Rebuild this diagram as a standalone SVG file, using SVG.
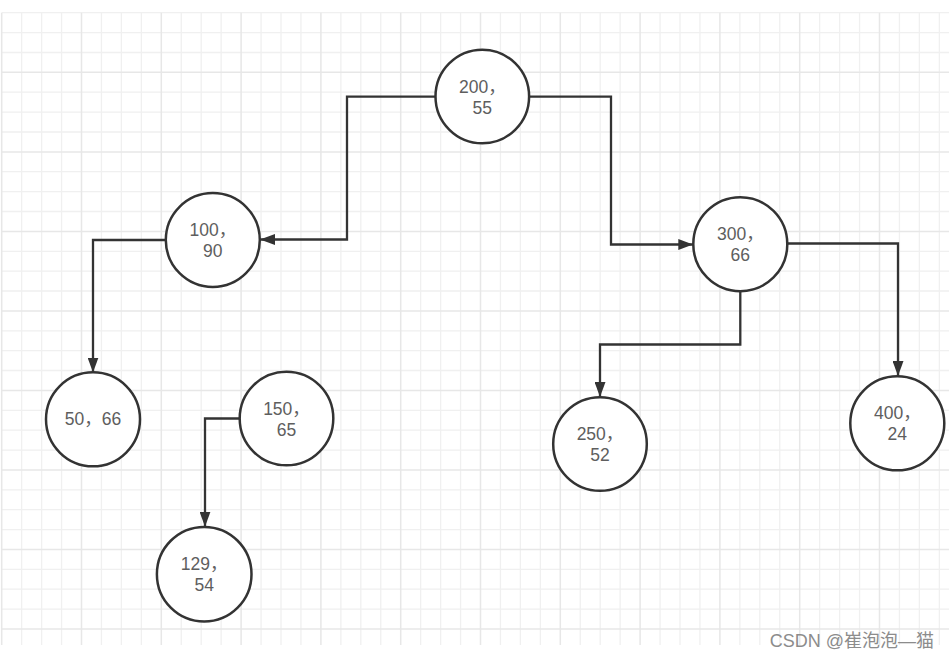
<svg xmlns="http://www.w3.org/2000/svg" width="949" height="661" viewBox="0 0 949 661">
<style>
.grid-minor{stroke:#f0f0f0;stroke-width:1.3;fill:none}
.grid-major{stroke:#e7e7e7;stroke-width:1.5;fill:none}
.node circle{fill:#ffffff;stroke:#333333;stroke-width:2.5}
.node text{font-family:"Liberation Sans","Noto Sans CJK SC",sans-serif;font-size:17.5px;fill:#5e5e5e;text-anchor:middle}
.edge{fill:none;stroke:#333333;stroke-width:2.3;marker-end:url(#arrow)}
.wm{font-family:"Liberation Sans","Noto Sans CJK SC",sans-serif;font-size:18px;fill:#8c8c8c;text-anchor:end}
</style>
<defs>
<marker id="arrow" markerUnits="userSpaceOnUse" markerWidth="15" markerHeight="11" viewBox="0 0 15 11" refX="15" refY="5.5" orient="auto">
<path d="M0,0 L15,5.5 L0,11 Z" fill="#333333"/>
</marker>
</defs>
<rect x="0" y="0" width="949" height="661" fill="#ffffff"/>
<g id="grid">
<path class="grid-minor" d="M21.65,12.7V645M41.6,12.7V645M61.55,12.7V645M101.45,12.7V645M121.4,12.7V645M141.35,12.7V645M181.25,12.7V645M201.2,12.7V645M221.15,12.7V645M261.05,12.7V645M281,12.7V645M300.95,12.7V645M340.85,12.7V645M360.8,12.7V645M380.75,12.7V645M420.65,12.7V645M440.6,12.7V645M460.55,12.7V645M500.45,12.7V645M520.4,12.7V645M540.35,12.7V645M580.25,12.7V645M600.2,12.7V645M620.15,12.7V645M660.05,12.7V645M680,12.7V645M699.95,12.7V645M739.85,12.7V645M759.8,12.7V645M779.75,12.7V645M819.65,12.7V645M839.6,12.7V645M859.55,12.7V645M899.45,12.7V645M919.4,12.7V645M939.35,12.7V645
M1.7,12.7H949M1.7,32.6H949M1.7,52.5H949M1.7,92.2H949M1.7,112.1H949M1.7,132H949M1.7,171.7H949M1.7,191.6H949M1.7,211.5H949M1.7,251.3H949M1.7,271.1H949M1.7,291H949M1.7,330.8H949M1.7,350.7H949M1.7,370.5H949M1.7,410.3H949M1.7,430.2H949M1.7,450.1H949M1.7,489.8H949M1.7,509.7H949M1.7,529.6H949M1.7,569.3H949M1.7,589.2H949M1.7,609.1H949"/>
<path class="grid-major" d="M1.7,12.7V645M81.5,12.7V645M161.3,12.7V645M241.1,12.7V645M320.9,12.7V645M400.7,12.7V645M480.5,12.7V645M560.3,12.7V645M640.1,12.7V645M719.9,12.7V645M799.7,12.7V645M879.5,12.7V645
M1.7,72.3H949M1.7,151.9H949M1.7,231.4H949M1.7,310.9H949M1.7,390.4H949M1.7,469.9H949M1.7,549.5H949M1.7,629H949"/>
</g>
<g id="connectors">
<path class="edge" d="M435.5,96.7H347V239.5H260"/>
<path class="edge" d="M529,96.7H611V244.5H693.3"/>
<path class="edge" d="M165.7,240H93V372.5"/>
<path class="edge" d="M239.5,418.5H205V526.7"/>
<path class="edge" d="M740.3,291.5V344.5H600V397"/>
<path class="edge" d="M787.3,243.5H898V376"/>
</g>
<g id="n200" class="node">
<circle cx="482.3" cy="96.5" r="46.8"/>
<text x="482.3" y="92.5">200，</text>
<text x="482.3" y="113.5">55</text>
</g>
<g id="n100" class="node">
<circle cx="212.8" cy="240" r="47"/>
<text x="212.8" y="236">100，</text>
<text x="212.8" y="257">90</text>
</g>
<g id="n300" class="node">
<circle cx="740.3" cy="244.2" r="47"/>
<text x="740.3" y="240.2">300，</text>
<text x="740.3" y="261.2">66</text>
</g>
<g id="n50" class="node">
<circle cx="93" cy="419.3" r="47"/>
<text x="93" y="425">50，66</text>
</g>
<g id="n150" class="node">
<circle cx="286.5" cy="418.5" r="46.8"/>
<text x="286.5" y="414.5">150，</text>
<text x="286.5" y="435.5">65</text>
</g>
<g id="n129" class="node">
<circle cx="204.2" cy="574.2" r="47.3"/>
<text x="204.2" y="570.2">129，</text>
<text x="204.2" y="591.2">54</text>
</g>
<g id="n250" class="node">
<circle cx="600" cy="444" r="46.8"/>
<text x="600" y="440">250，</text>
<text x="600" y="461">52</text>
</g>
<g id="n400" class="node">
<circle cx="897.3" cy="423.3" r="47"/>
<text x="897.3" y="419.3">400，</text>
<text x="897.3" y="440.3">24</text>
</g>
<text class="wm" x="934" y="647">CSDN @崔泡泡—猫</text>
</svg>
